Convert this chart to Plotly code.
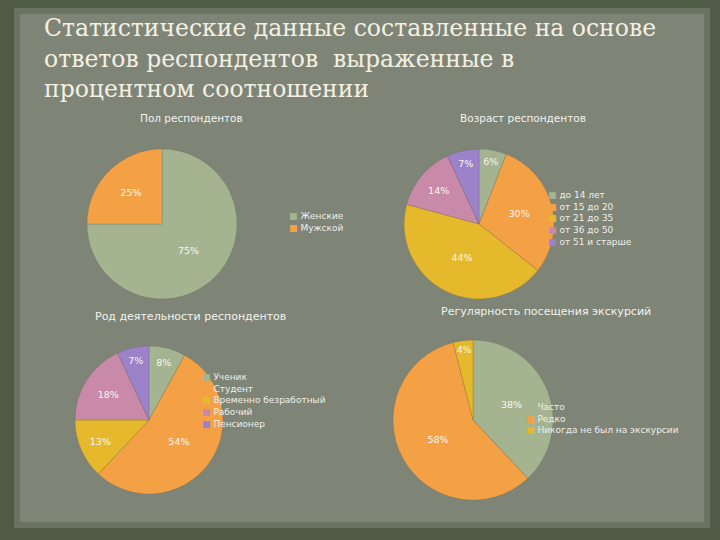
import plotly.graph_objects as go

W, H = 720, 540

main_title = ["Статистические данные составленные на основе",
              "ответов респондентов  выраженные в",
              "процентном соотношении"]

# Pie 1: gender
gender_title = "Пол респондентов"
gender_labels = ["Женские", "Мужской"]
gender_values = [75, 25]

# Pie 2: age
age_title = "Возраст респондентов"
age_labels = ["до 14 лет", "от 15 до 20", "от 21 до 35", "от 36 до 50", "от 51 и старше"]
age_values = [6, 30, 44, 14, 7]

# Pie 3: occupation
occ_title = "Род деятельности респондентов"
occ_labels = ["Ученик", "Студент", "Временно безработный", "Рабочий", "Пенсионер"]
occ_values = [8, 54, 13, 18, 7]

# Pie 4: excursion regularity
visit_title = "Регулярность посещения экскурсий"
visit_labels = ["Часто", "Редко", "Никогда не был на экскурсии"]
visit_values = [38, 58, 4]

palette = ["#a4b490", "#f4a146", "#e6b92c", "#c98aa9", "#9b82c9"]

# layout specs (pixel geometry)
pies = [
    dict(title=gender_title, labels=gender_labels, values=gender_values,
         cx=162, cy=224, r=75, tx=191, ty=118, tsize=10.5,
         lx=288, ly=210),
    dict(title=age_title, labels=age_labels, values=age_values,
         cx=479, cy=224, r=75, tx=523, ty=118, tsize=10.5,
         lx=547, ly=189),
    dict(title=occ_title, labels=occ_labels, values=occ_values,
         cx=149, cy=420, r=74, tx=190, ty=316, tsize=11,
         lx=201, ly=371),
    dict(title=visit_title, labels=visit_labels, values=visit_values,
         cx=473, cy=420, r=80, tx=546, ty=311, tsize=11,
         lx=525, ly=401),
]

fig = go.Figure()
annotations = []

for p in pies:
    n = len(p["labels"])
    fig.add_trace(go.Pie(
        labels=p["labels"], values=p["values"],
        sort=False, direction="clockwise", rotation=0,
        marker=dict(colors=palette[:n], line=dict(color="rgba(80,80,60,0.35)", width=0.6)),
        texttemplate="%{value}%", textposition="inside",
        insidetextorientation="horizontal",
        textfont=dict(family="DejaVu Sans", size=9.5, color="#f7f7f0"),
        showlegend=False, hoverinfo="label+value",
        domain=dict(x=[(p["cx"] - p["r"]) / W, (p["cx"] + p["r"]) / W],
                    y=[1 - (p["cy"] + p["r"]) / H, 1 - (p["cy"] - p["r"]) / H]),
    ))
    annotations.append(dict(
        text=p["title"], x=p["tx"] / W, y=1 - p["ty"] / H, xref="paper", yref="paper",
        xanchor="center", yanchor="middle", showarrow=False,
        font=dict(family="DejaVu Sans", size=p["tsize"], color="#f2f2ee")))
    lines = ['<span style="color:%s">■</span> %s' % (palette[i], lab)
             for i, lab in enumerate(p["labels"])]
    annotations.append(dict(
        text="<br>".join(lines), x=p["lx"] / W, y=1 - p["ly"] / H, xref="paper", yref="paper",
        xanchor="left", yanchor="top", align="left", showarrow=False, borderpad=0,
        font=dict(family="DejaVu Sans", size=9, color="#eeeeea")))

annotations.append(dict(
    text="<br>".join(main_title), x=42 / W, y=1 - 12 / H, xref="paper", yref="paper",
    xanchor="left", yanchor="top", align="left", showarrow=False,
    font=dict(family="DejaVu Serif", size=23.5, color="#f4f0e2")))

shapes = [
    dict(type="rect", xref="paper", yref="paper", x0=14 / W, x1=710 / W,
         y0=1 - 528 / H, y1=1 - 8 / H, fillcolor="#6a7262", line=dict(width=0), layer="below"),
    dict(type="rect", xref="paper", yref="paper", x0=20 / W, x1=704 / W,
         y0=1 - 522 / H, y1=1 - 14 / H, fillcolor="#7e8577", line=dict(width=0), layer="below"),
]

fig.update_layout(
    width=W, height=H, margin=dict(l=0, r=0, t=0, b=0),
    paper_bgcolor="#4f5a47", plot_bgcolor="#4f5a47",
    annotations=annotations, shapes=shapes,
)

fig.write_html("out.html")
